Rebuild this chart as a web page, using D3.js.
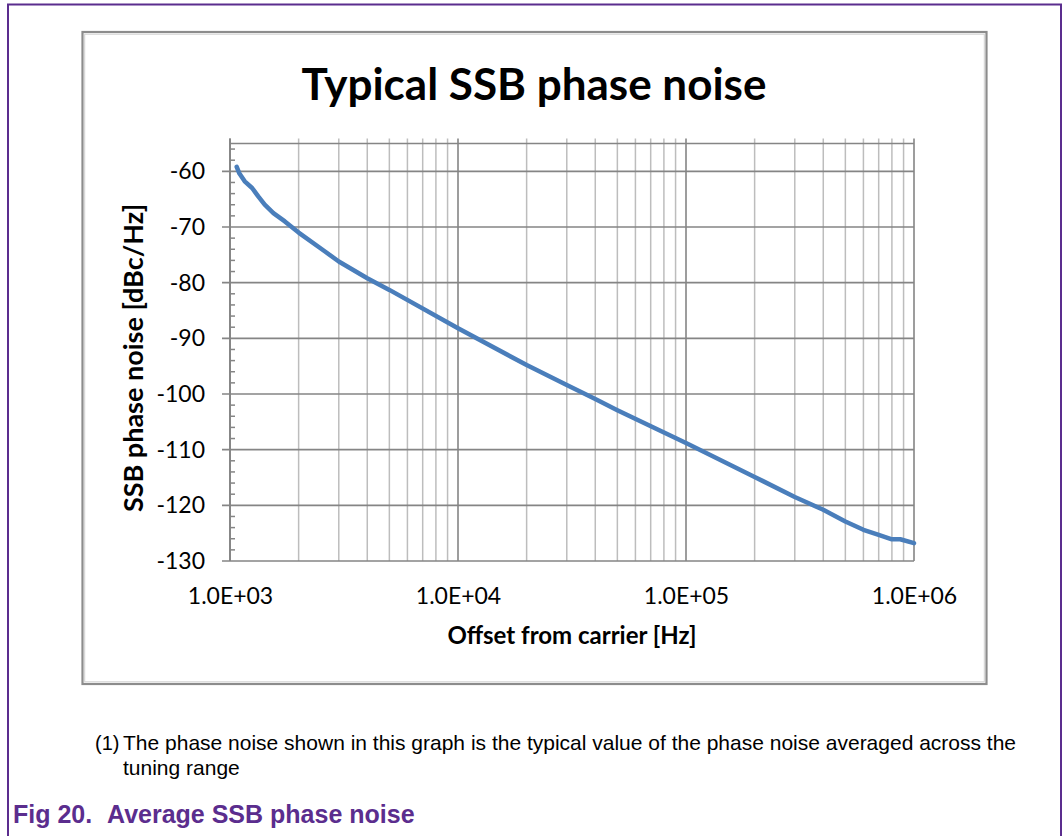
<!DOCTYPE html>
<html>
<head>
<meta charset="utf-8">
<script src="https://cdn.jsdelivr.net/npm/d3@7"></script>
<style>
  body { margin: 0; background: #fff; }
  svg { display: block; }
</style>
</head>
<body>
<div id="chart"></div>
<script>
// values
const offsetHz = [1070, 1100, 1160, 1250, 1330, 1420, 1550, 1740, 2000, 2610, 3000, 4000, 5000,
                  10000, 20000, 30000, 40000, 50000, 100000, 200000, 300000, 400000, 500000,
                  600000, 700000, 800000, 870000, 1000000];
const phaseNoise = [-59.2, -60.4, -61.8, -63.0, -64.5, -66.0, -67.5, -69.0, -71.0, -74.4, -76.2, -79.2, -81.3,
                    -88.2, -94.8, -98.4, -100.9, -102.9, -108.8, -114.9, -118.5, -120.8, -122.9,
                    -124.4, -125.3, -126.1, -126.1, -126.8];
const xTickValues = [1e3, 1e4, 1e5, 1e6];
const yTickValues = [-130, -120, -110, -100, -90, -80, -70, -60];
const yDomain = [-130, -55];

const chartTitle = "Typical SSB phase noise";
const xTitle = "Offset from carrier [Hz]";
const yTitle = "SSB phase noise [dBc/Hz]";
const noteLines = ["The phase noise shown in this graph is the typical value of the phase noise averaged across the",
                   "tuning range"];
const figLabel = "Fig 20.";
const figTitle = "Average SSB phase noise";

const width = 1063, height = 836;
const marginLeft = 230, marginRight = 914, marginTop = 143.5, marginBottom = 561;
const PURPLE = "#5b2d8e";
const MAJOR = "#858585", MINOR = "#bdbdbd";
const FONT = "Lato, 'Open Sans', sans-serif";

const svg = d3.select("#chart").append("svg")
    .attr("width", width)
    .attr("height", height);

// outer document frame
svg.append("path")
    .attr("d", `M8,${height} L8,4.5 L1061,4.5 L1061,${height}`)
    .attr("fill", "none")
    .attr("stroke", PURPLE)
    .attr("stroke-width", 2);

// chart box
svg.append("rect")
    .attr("x", 82.5).attr("y", 32)
    .attr("width", 904).attr("height", 652)
    .attr("fill", "#fff")
    .attr("stroke", "#8c8c8c")
    .attr("stroke-width", 2.2);
svg.append("rect")
    .attr("x", 84.7).attr("y", 34.2)
    .attr("width", 899.6).attr("height", 647.6)
    .attr("fill", "none")
    .attr("stroke", "#d0d0d0")
    .attr("stroke-width", 1);

const x = d3.scaleLog().domain([1e3, 1e6]).range([marginLeft, marginRight]);
const y = d3.scaleLinear().domain(yDomain).range([marginBottom, marginTop]);

const grid = svg.append("g");

// vertical gridlines: minor first, then decades on top
const allX = x.ticks();
grid.selectAll("line.vminor")
  .data(allX.filter(d => !xTickValues.includes(d)))
  .join("line")
    .attr("x1", d => x(d)).attr("x2", d => x(d))
    .attr("y1", y(yDomain[1]) - 5).attr("y2", y(yDomain[0]))
    .attr("stroke", MINOR).attr("stroke-width", 1.5);

// horizontal major gridlines with outward ticks
grid.selectAll("line.hmajor")
  .data(yTickValues)
  .join("line")
    .attr("x1", marginLeft - 8).attr("x2", marginRight)
    .attr("y1", d => y(d)).attr("y2", d => y(d))
    .attr("stroke", MAJOR).attr("stroke-width", 1.6);
grid.append("line")
    .attr("x1", marginLeft).attr("x2", marginRight)
    .attr("y1", y(yDomain[1])).attr("y2", y(yDomain[1]))
    .attr("stroke", MAJOR).attr("stroke-width", 1.6);

grid.selectAll("line.vmajor")
  .data(xTickValues)
  .join("line")
    .attr("x1", d => x(d)).attr("x2", d => x(d))
    .attr("y1", y(yDomain[1]) - 5).attr("y2", y(yDomain[0]))
    .attr("stroke", MAJOR).attr("stroke-width", 1.6);

// minor y ticks inside the axis
grid.selectAll("line.yminor")
  .data(d3.range(yDomain[0] + 2, yDomain[1] + 1, 2).filter(d => d % 10 !== 0))
  .join("line")
    .attr("x1", marginLeft).attr("x2", marginLeft + 5)
    .attr("y1", d => y(d)).attr("y2", d => y(d))
    .attr("stroke", MAJOR).attr("stroke-width", 1.5);

// y axis labels (plain hyphen minus, as in the source)
const yAxis = svg.append("g")
    .attr("transform", `translate(${marginLeft},0)`)
    .call(d3.axisLeft(y).tickValues(yTickValues).tickSize(0).tickPadding(25).tickFormat(d => String(d)));
yAxis.select(".domain").remove();
yAxis.selectAll("text")
    .attr("font-family", FONT)
    .attr("font-size", 23)
    .attr("fill", "#000");

// axis line
svg.append("line")
    .attr("x1", marginLeft).attr("x2", marginLeft)
    .attr("y1", y(yDomain[1]) - 5).attr("y2", y(yDomain[0]))
    .attr("stroke", MAJOR).attr("stroke-width", 1.8);

// x axis labels
const xAxis = svg.append("g")
    .attr("transform", `translate(0,${marginBottom})`)
    .call(d3.axisBottom(x).tickValues(xTickValues).tickSize(0).tickPadding(27)
      .tickFormat(d => d.toExponential(1).toUpperCase().replace(/E\+(\d)$/, "E+0$1")));
xAxis.select(".domain").remove();
xAxis.selectAll("text")
    .attr("font-family", FONT)
    .attr("font-size", 23)
    .attr("fill", "#000");

// the curve
const points = offsetHz.map((f, i) => ({f: f, v: phaseNoise[i]}));
const line = d3.line().x(d => x(d.f)).y(d => y(d.v));
svg.append("path")
    .attr("d", line(points))
    .attr("fill", "none")
    .attr("stroke", "#4a7ebb")
    .attr("stroke-width", 4.5)
    .attr("stroke-linejoin", "round")
    .attr("stroke-linecap", "round");

// titles
svg.append("text")
    .attr("x", 534).attr("y", 100)
    .attr("text-anchor", "middle")
    .attr("font-family", FONT)
    .attr("font-weight", "bold")
    .attr("font-size", 44)
    .text(chartTitle);

svg.append("text")
    .attr("x", 572).attr("y", 644)
    .attr("text-anchor", "middle")
    .attr("font-family", FONT)
    .attr("font-weight", "bold")
    .attr("font-size", 24)
    .text(xTitle);

svg.append("text")
    .attr("transform", `translate(143,358) rotate(-90)`)
    .attr("text-anchor", "middle")
    .attr("font-family", FONT)
    .attr("font-weight", "bold")
    .attr("font-size", 27)
    .text(yTitle);

// footnote
const note = svg.append("g")
    .attr("font-family", "'Liberation Sans', Arial, sans-serif")
    .attr("fill", "#000");
note.append("text").attr("x", 95).attr("y", 750).attr("font-size", 20).text("(1)");
note.selectAll("text.line")
  .data(noteLines)
  .join("text")
    .attr("x", 123)
    .attr("y", (d, i) => 750 + i * 25)
    .attr("font-size", 21)
    .text(d => d);

// figure caption
const cap = svg.append("g")
    .attr("font-family", "'Liberation Sans', Arial, sans-serif")
    .attr("font-weight", "bold")
    .attr("font-size", 25)
    .attr("fill", PURPLE);
cap.append("text").attr("x", 13).attr("y", 823).text(figLabel);
cap.append("text").attr("x", 107).attr("y", 823).text(figTitle);
</script>
</body>
</html>
